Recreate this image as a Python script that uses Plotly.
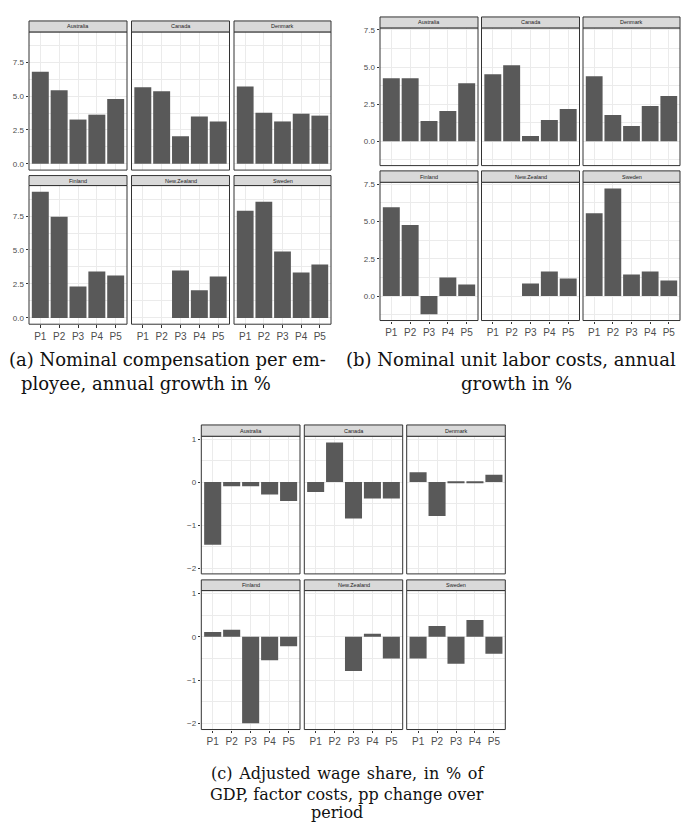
import plotly.graph_objects as go

# ---------------------------------------------------------------------------
# Data: one list per country (order below), one value per sub-period P1..P5
# ---------------------------------------------------------------------------
countries = ["Australia", "Canada", "Denmark", "Finland", "New.Zealand", "Sweden"]
periods = ["P1", "P2", "P3", "P4", "P5"]

# (a) Nominal compensation per employee, annual growth in %
compensation_growth = [
    [6.80, 5.43, 3.27, 3.63, 4.78],
    [5.65, 5.36, 2.04, 3.49, 3.13],
    [5.72, 3.77, 3.13, 3.70, 3.56],
    [9.28, 7.45, 2.32, 3.42, 3.13],
    [None, None, 3.49, 2.03, 3.05],
    [7.89, 8.55, 4.89, 3.35, 3.93],
]

# (b) Nominal unit labor costs, annual growth in %
ulc_growth = [
    [4.24, 4.24, 1.36, 2.03, 3.91],
    [4.51, 5.11, 0.36, 1.43, 2.17],
    [4.38, 1.76, 1.03, 2.37, 3.04],
    [5.95, 4.76, -1.22, 1.24, 0.77],
    [None, None, 0.84, 1.64, 1.17],
    [5.55, 7.21, 1.44, 1.64, 1.04],
]

# (c) Adjusted wage share, pp change over period
wage_share_change = [
    [-1.46, -0.10, -0.10, -0.29, -0.44],
    [-0.23, 0.92, -0.85, -0.38, -0.38],
    [0.23, -0.79, -0.03, -0.015, 0.17],
    [0.11, 0.16, -1.99, -0.54, -0.22],
    [None, None, -0.79, 0.07, -0.50],
    [-0.50, 0.25, -0.62, 0.39, -0.39],
]

caption_a = ["(a) Nominal compensation per em-", "ployee, annual growth in %"]
caption_b = ["(b) Nominal unit labor costs, annual", "growth in %"]
# first line of (c) is set justified: a hair space widens each gap
caption_c = [" \u200a".join("(c) Adjusted wage share, in % of".split(" ")),
             "GDP, factor costs, pp change over",
             "period"]

# ---------------------------------------------------------------------------
# Page geometry (pixels) and styling
# ---------------------------------------------------------------------------
W, H = 681, 822
BAR = "#595959"
GRID = "#EBEBEB"
BORDER = "#333333"
STRIP = "#D9D9D9"
TICK_TXT = "#4D4D4D"
SANS = "Liberation Sans, Arial, sans-serif"
SERIF = "DejaVu Serif, Liberation Serif, serif"


def px(x):
    return x / W


def py(y):
    return 1 - y / H


panels = [
    dict(values=compensation_growth,
         cols=[(29, 127), (131.5, 229.5), (234, 331)],
         rows=[(19, 30, 168.5), (174, 184, 323)],
         dtick=2.5, minor=1.25, fmt=".1f",
         caption=caption_a, cap_x=[167, 146], cap_y=[358, 382], cap_size=18),
    dict(values=ulc_growth,
         cols=[(380, 478), (481.5, 579.5), (583, 680)],
         rows=[(15, 26, 164), (169.3, 180.7, 319.3)],
         dtick=2.5, minor=1.25, fmt=".1f",
         caption=caption_b, cap_x=[511, 516], cap_y=[358, 382], cap_size=18),
    dict(values=wage_share_change,
         cols=[(201.3, 300), (304.3, 402.7), (406.7, 505.3)],
         rows=[(424, 435.3, 573.3), (579.3, 590, 729.3)],
         dtick=1, minor=0.5, fmt="d",
         caption=caption_c, cap_x=[347, 347, 337], cap_y=[773, 794, 812], cap_size=16),
]

fig = go.Figure()
layout_axes = {}
shapes = []
annotations = []

k = 0
for spec in panels:
    vals = spec["values"]
    flat = [v for row in vals for v in row if v is not None]
    lo, hi = min(0.0, min(flat)), max(0.0, max(flat))
    pad = 0.05 * (hi - lo)
    yrange = [lo - pad, hi + pad]

    for i, country in enumerate(countries):
        r, c = divmod(i, 3)
        k += 1
        xname = "xaxis" if k == 1 else f"xaxis{k}"
        yname = "yaxis" if k == 1 else f"yaxis{k}"
        xref = "x" if k == 1 else f"x{k}"
        yref = "y" if k == 1 else f"y{k}"
        x0, x1 = spec["cols"][c]
        s0, p0, p1 = spec["rows"][r]

        fig.add_trace(go.Bar(
            x=periods, y=vals[i], xaxis=xref, yaxis=yref,
            width=0.9, marker=dict(color=BAR, line=dict(width=0)),
            showlegend=False, hovertemplate="%{x}: %{y}<extra>" + country + "</extra>",
        ))

        layout_axes[xname] = dict(
            domain=[px(x0), px(x1)], anchor=yref,
            type="category", categoryorder="array", categoryarray=periods,
            range=[-0.6, 4.6],
            showgrid=True, gridcolor=GRID, gridwidth=1,
            zeroline=False, showline=False,
            ticks="outside" if r == 1 else "", ticklen=2.5, tickwidth=0.8,
            tickcolor=BORDER,
            showticklabels=(r == 1),
            tickfont=dict(family=SANS, size=10, color=TICK_TXT),
        )
        layout_axes[yname] = dict(
            domain=[py(p1), py(p0)], anchor=xref,
            range=yrange, tickmode="linear", tick0=0, dtick=spec["dtick"],
            tickformat=spec["fmt"],
            showgrid=True, gridcolor=GRID, gridwidth=1,
            minor=dict(tick0=0, dtick=spec["minor"], showgrid=True,
                       gridcolor=GRID, gridwidth=0.5, ticks=""),
            zeroline=False, showline=False,
            ticks="outside" if c == 0 else "", ticklen=2.5, tickwidth=0.8,
            tickcolor=BORDER,
            showticklabels=(c == 0),
            tickfont=dict(family=SANS, size=8, color=TICK_TXT),
        )

        # panel border
        shapes.append(dict(type="rect", xref="paper", yref="paper",
                           x0=px(x0), x1=px(x1), y0=py(p1), y1=py(p0),
                           line=dict(color=BORDER, width=1), fillcolor="rgba(0,0,0,0)",
                           layer="above"))
        # facet strip
        shapes.append(dict(type="rect", xref="paper", yref="paper",
                           x0=px(x0), x1=px(x1), y0=py(p0), y1=py(s0),
                           line=dict(color=BORDER, width=1), fillcolor=STRIP,
                           layer="above"))
        annotations.append(dict(text=country, xref="paper", yref="paper",
                                x=px((x0 + x1) / 2), y=py((s0 + p0) / 2),
                                xanchor="center", yanchor="middle", showarrow=False,
                                font=dict(family=SANS, size=5.5, color="#1A1A1A")))

    for line, cx, cy in zip(spec["caption"], spec["cap_x"], spec["cap_y"]):
        annotations.append(dict(text=line, xref="paper", yref="paper",
                                x=px(cx), y=py(cy), xanchor="center", yanchor="middle",
                                showarrow=False, borderpad=0,
                                font=dict(family=SERIF, size=spec["cap_size"], color="#111111")))

fig.update_layout(
    width=W, height=H,
    margin=dict(l=0, r=0, t=0, b=0),
    paper_bgcolor="white", plot_bgcolor="white",
    bargap=0.1, shapes=shapes, annotations=annotations,
    **layout_axes,
)

fig.write_html("out.html")
